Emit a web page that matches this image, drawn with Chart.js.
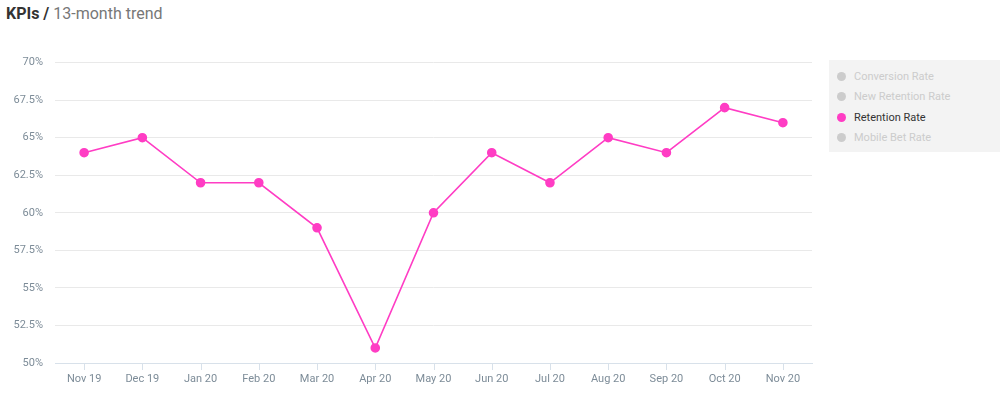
<!DOCTYPE html>
<html>
<head>
<meta charset="utf-8">
<script src="https://cdn.jsdelivr.net/npm/chart.js@4"></script>
<style>
  body { margin: 0; background: #fff; font-family: Roboto, sans-serif; width: 1000px; height: 414px; overflow: hidden; }
  #title { position: absolute; left: 6px; top: 4px; font-size: 16px; color: #777; }
  #title b { color: #333; }
  #wrap { position: absolute; left: 0; top: 44px; width: 820px; height: 347px; }
  #legend { position: absolute; left: 829px; top: 60px; width: 179px; height: 92px; background: #f3f3f3; }
  #legend div { display: flex; align-items: center; height: 20.5px; font-size: 11px; color: #ccc; padding-left: 8px; }
  #legend div:first-child { margin-top: 6px; }
  #legend span.dot { width: 9px; height: 9px; border-radius: 50%; background: #ccc; margin-right: 8px; }
  #legend div.on { color: #333; }
</style>
</head>
<body>
<div id="title"><b>KPIs /</b> 13-month trend</div>
<div id="wrap"><canvas id="lineChart"></canvas></div>
<div id="legend"></div>
<script>
// Data
const months = ['Nov 19', 'Dec 19', 'Jan 20', 'Feb 20', 'Mar 20', 'Apr 20', 'May 20',
  'Jun 20', 'Jul 20', 'Aug 20', 'Sep 20', 'Oct 20', 'Nov 20'];
const retentionRate = [64, 65, 62, 62, 59, 51, 60, 64, 62, 65, 64, 67, 66];
const seriesNames = ['Conversion Rate', 'New Retention Rate', 'Retention Rate', 'Mobile Bet Rate'];
const activeSeries = 'Retention Rate';
const yMin = 50, yMax = 70, yStep = 2.5;

const pink = '#ff3dc4';

const datasets = seriesNames.map(name => ({
  label: name,
  data: name === activeSeries ? retentionRate : [],
  hidden: name !== activeSeries,
  borderColor: pink,
  backgroundColor: pink,
  borderWidth: 1.6,
  pointRadius: 4,
  pointHoverRadius: 5,
  tension: 0
}));

const ctx = document.getElementById('lineChart').getContext('2d');
new Chart(ctx, {
  type: 'line',
  data: { labels: months, datasets: datasets },
  options: {
    responsive: true,
    maintainAspectRatio: false,
    animation: false,
    layout: { padding: { top: 0, right: 8 } },
    scales: {
      x: {
        offset: true,
        grid: { display: false, drawOnChartArea: false },
        border: { color: '#d8e1ea', width: 1 },
        ticks: { color: '#7d8c98', font: { family: 'Roboto', size: 11 }, padding: 2 },
        afterFit: s => { s.height = 28; }
      },
      y: {
        min: yMin,
        max: yMax,
        ticks: {
          stepSize: yStep,
          color: '#7d8c98',
          font: { family: 'Roboto', size: 11 },
          padding: 12,
          callback: v => v + '%'
        },
        grid: { color: '#e9e9e9', drawTicks: false },
        border: { display: false },
        afterFit: s => { s.width = 55; }
      }
    },
    plugins: {
      legend: { display: false },
      tooltip: { enabled: false }
    }
  },
  plugins: [{
    id: 'xTicks',
    afterDraw(chart) {
      const c = chart.ctx, xs = chart.scales.x, bottom = chart.chartArea.bottom;
      c.save();
      c.strokeStyle = '#d8e1ea';
      c.lineWidth = 1;
      months.forEach((m, i) => {
        const x = Math.round(xs.getPixelForValue(i)) + 0.5;
        c.beginPath();
        c.moveTo(x, bottom);
        c.lineTo(x, bottom + 7);
        c.stroke();
      });
      c.restore();
    }
  }]
});

// Legend
const legend = document.getElementById('legend');
seriesNames.forEach(name => {
  const row = document.createElement('div');
  const dot = document.createElement('span');
  dot.className = 'dot';
  if (name === activeSeries) { row.className = 'on'; dot.style.background = pink; }
  row.appendChild(dot);
  row.appendChild(document.createTextNode(name));
  legend.appendChild(row);
});
</script>
</body>
</html>
